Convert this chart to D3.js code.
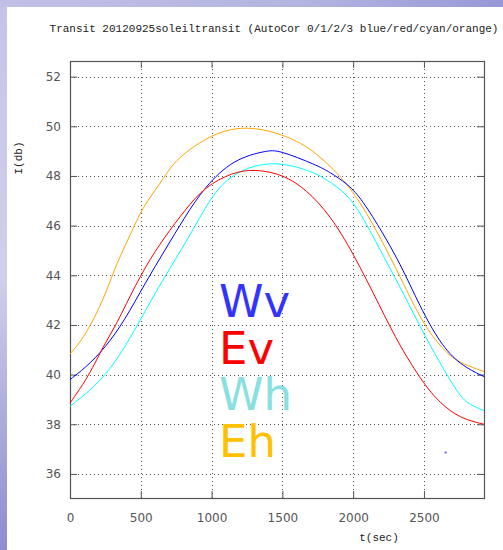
<!DOCTYPE html>
<html><head><meta charset="utf-8">
<script src="https://cdn.jsdelivr.net/npm/d3@7"></script>
<style>body{margin:0;padding:0;overflow:hidden;} svg{display:block;}</style>
</head><body>
<script>
const title = "Transit 20120925soleiltransit (AutoCor 0/1/2/3 blue/red/cyan/orange)";
const xTicks = [0, 500, 1000, 1500, 2000, 2500];
const yTicks = [36, 38, 40, 42, 44, 46, 48, 50, 52];
const legendLabels = ["Wv", "Ev", "Wh", "Eh"];
const legendColors = ["#3333ff", "#ff0000", "#88e0e0", "#ffc000"];
const lineColors = ["#0000ff", "#ff0000", "#00ffff", "#ffa500"];

// t(sec), I(db)
const wvT = [0, 106, 247, 388, 530, 671, 812, 953, 1154, 1389, 1471, 1742, 1836, 1954, 2048, 2189, 2331, 2472, 2613, 2754, 2924];
const wvV = [39.8, 40.26, 41.06, 42.2, 43.68, 45.02, 46.36, 47.57, 48.68, 49.02, 49.05, 48.44, 48.15, 47.7, 47.17, 45.9, 44.49, 42.74, 41.26, 40.39, 39.92];
const evT = [0, 106, 177, 247, 318, 388, 530, 671, 812, 953, 1150, 1306, 1507, 1671, 1836, 2001, 2189, 2331, 2495, 2613, 2754, 2924];
const evV = [38.85, 39.72, 40.46, 41.26, 41.93, 42.74, 44.35, 45.56, 46.63, 47.57, 48.15, 48.28, 48.06, 47.44, 46.43, 44.89, 42.74, 41.13, 39.65, 38.85, 38.24, 38.0];
const whT = [0, 177, 318, 459, 600, 742, 883, 1024, 1200, 1460, 1742, 1836, 2001, 2189, 2331, 2472, 2613, 2754, 2825, 2924];
const whV = [38.72, 39.52, 40.46, 41.8, 43.28, 44.62, 45.96, 47.44, 48.28, 48.63, 48.12, 47.75, 47.1, 45.02, 43.54, 41.93, 40.46, 39.11, 38.78, 38.55];
const ehT = [0, 106, 247, 318, 459, 516, 671, 742, 1000, 1271, 1624, 1813, 2001, 2189, 2331, 2495, 2637, 2731, 2924];
const ehV = [40.83, 41.53, 43.14, 44.35, 46.03, 46.77, 47.97, 48.65, 49.72, 50.08, 49.45, 48.55, 47.44, 45.56, 43.95, 42.0, 41.0, 40.52, 40.12];
const strayT = [2653];
const strayV = [36.86];

const W = 503, H = 550;
const svg = d3.select("body").append("svg").attr("width", W).attr("height", H);
const defs = svg.append("defs");
const gl = defs.append("linearGradient").attr("id", "gl").attr("x1", 0).attr("y1", 0).attr("x2", 0).attr("y2", 1);
gl.append("stop").attr("offset", "0").attr("stop-color", "#c4c4e8");
gl.append("stop").attr("offset", "0.5").attr("stop-color", "#d0d0ea");
gl.append("stop").attr("offset", "1").attr("stop-color", "#8c8cd0");
const gt = defs.append("linearGradient").attr("id", "gt").attr("x1", 0).attr("y1", 0).attr("x2", 1).attr("y2", 0);
gt.append("stop").attr("offset", "0").attr("stop-color", "#c0c0e6");
gt.append("stop").attr("offset", "0.6").attr("stop-color", "#b4b4e2");
gt.append("stop").attr("offset", "1").attr("stop-color", "#9898d8");
svg.append("rect").attr("width", W).attr("height", H).attr("fill", "url(#gl)");
svg.append("rect").attr("width", W).attr("height", 7).attr("fill", "url(#gt)");
svg.append("rect").attr("x", 7).attr("y", 7).attr("width", W - 7).attr("height", H - 7).attr("fill", "#ffffff");

const L = 70, R = 484, T = 61, B = 498;
const x = d3.scaleLinear().domain([0, 2924]).range([L, R]);
const y = d3.scaleLinear().domain([35.03, 52.63]).range([B, T]);

// grid
const grid = svg.append("g").attr("stroke", "#555").attr("stroke-width", 1).attr("stroke-dasharray", "1,3");
grid.selectAll("line.h").data(yTicks).join("line").attr("class", "h")
  .attr("x1", L).attr("x2", R).attr("y1", d => Math.round(y(d)) + 0.5).attr("y2", d => Math.round(y(d)) + 0.5);
grid.selectAll("line.v").data(xTicks.filter(d => d > 0)).join("line").attr("class", "v")
  .attr("y1", T).attr("y2", B).attr("x1", d => Math.round(x(d)) + 0.5).attr("x2", d => Math.round(x(d)) + 0.5);

// axes
const tickFont = "DejaVu Sans, sans-serif";
const axL = svg.append("g").attr("transform", `translate(${L},0)`).call(d3.axisLeft(y).tickValues(yTicks).tickSize(-7).tickPadding(9).tickFormat(d3.format("d")));
const axR = svg.append("g").attr("transform", `translate(${R},0)`).call(d3.axisRight(y).tickValues(yTicks).tickSize(-7).tickFormat(""));
const axB = svg.append("g").attr("transform", `translate(0,${B})`).call(d3.axisBottom(x).tickValues(xTicks).tickSize(-7).tickPadding(15).tickFormat(d3.format("d")));
const axT = svg.append("g").attr("transform", `translate(0,${T})`).call(d3.axisTop(x).tickValues(xTicks).tickSize(-7).tickFormat(""));
[axL, axR, axB, axT].forEach(a => {
  a.select(".domain").remove();
  a.selectAll(".tick line").attr("stroke", "#555");
  a.selectAll("text").attr("font-family", tickFont).attr("font-size", 12).attr("fill", "#555");
});
svg.append("rect").attr("x", L + 0.5).attr("y", T + 0.5).attr("width", R - L).attr("height", B - T)
  .attr("fill", "none").attr("stroke", "#555").attr("stroke-width", 1.2);

// lines
const series = [[wvT, wvV], [evT, evV], [whT, whV], [ehT, ehV]];
const line = d3.line().x(d => x(d[0])).y(d => y(d[1])).curve(d3.curveBasis);
const order = [3, 2, 0, 1];
order.forEach(i => {
  const [ts, vs] = series[i];
  svg.append("path").datum(ts.map((t, k) => [t, vs[k]]))
    .attr("d", line).attr("fill", "none").attr("stroke", lineColors[i]).attr("stroke-width", 1);
});
svg.selectAll("rect.stray").data(strayT.map((t, k) => [t, strayV[k]])).join("rect").attr("class", "stray")
  .attr("x", d => x(d[0]) - 1).attr("y", d => y(d[1]) - 1).attr("width", 2).attr("height", 2).attr("fill", "#6666ff");

// legend
const lg = svg.append("g");
lg.selectAll("text").data(legendLabels).join("text")
  .attr("x", 219).attr("y", (d, i) => 317 + i * 46.5)
  .attr("font-family", "DejaVu Sans, sans-serif").attr("font-size", 45)
  .attr("fill", (d, i) => legendColors[i]).text(d => d);

// titles
const mono = "Liberation Mono, Courier New, monospace";
svg.append("text").attr("x", 274).attr("y", 32).attr("text-anchor", "middle")
  .attr("font-family", mono).attr("font-size", 11).attr("fill", "#222").text(title);
svg.append("text").attr("x", 379).attr("y", 541).attr("text-anchor", "middle")
  .attr("font-family", mono).attr("font-size", 11).attr("fill", "#222").text("t(sec)");
svg.append("text").attr("transform", "translate(22,158) rotate(-90)").attr("text-anchor", "middle")
  .attr("font-family", mono).attr("font-size", 11).attr("fill", "#222").text("I(db)");
</script>
</body></html>
